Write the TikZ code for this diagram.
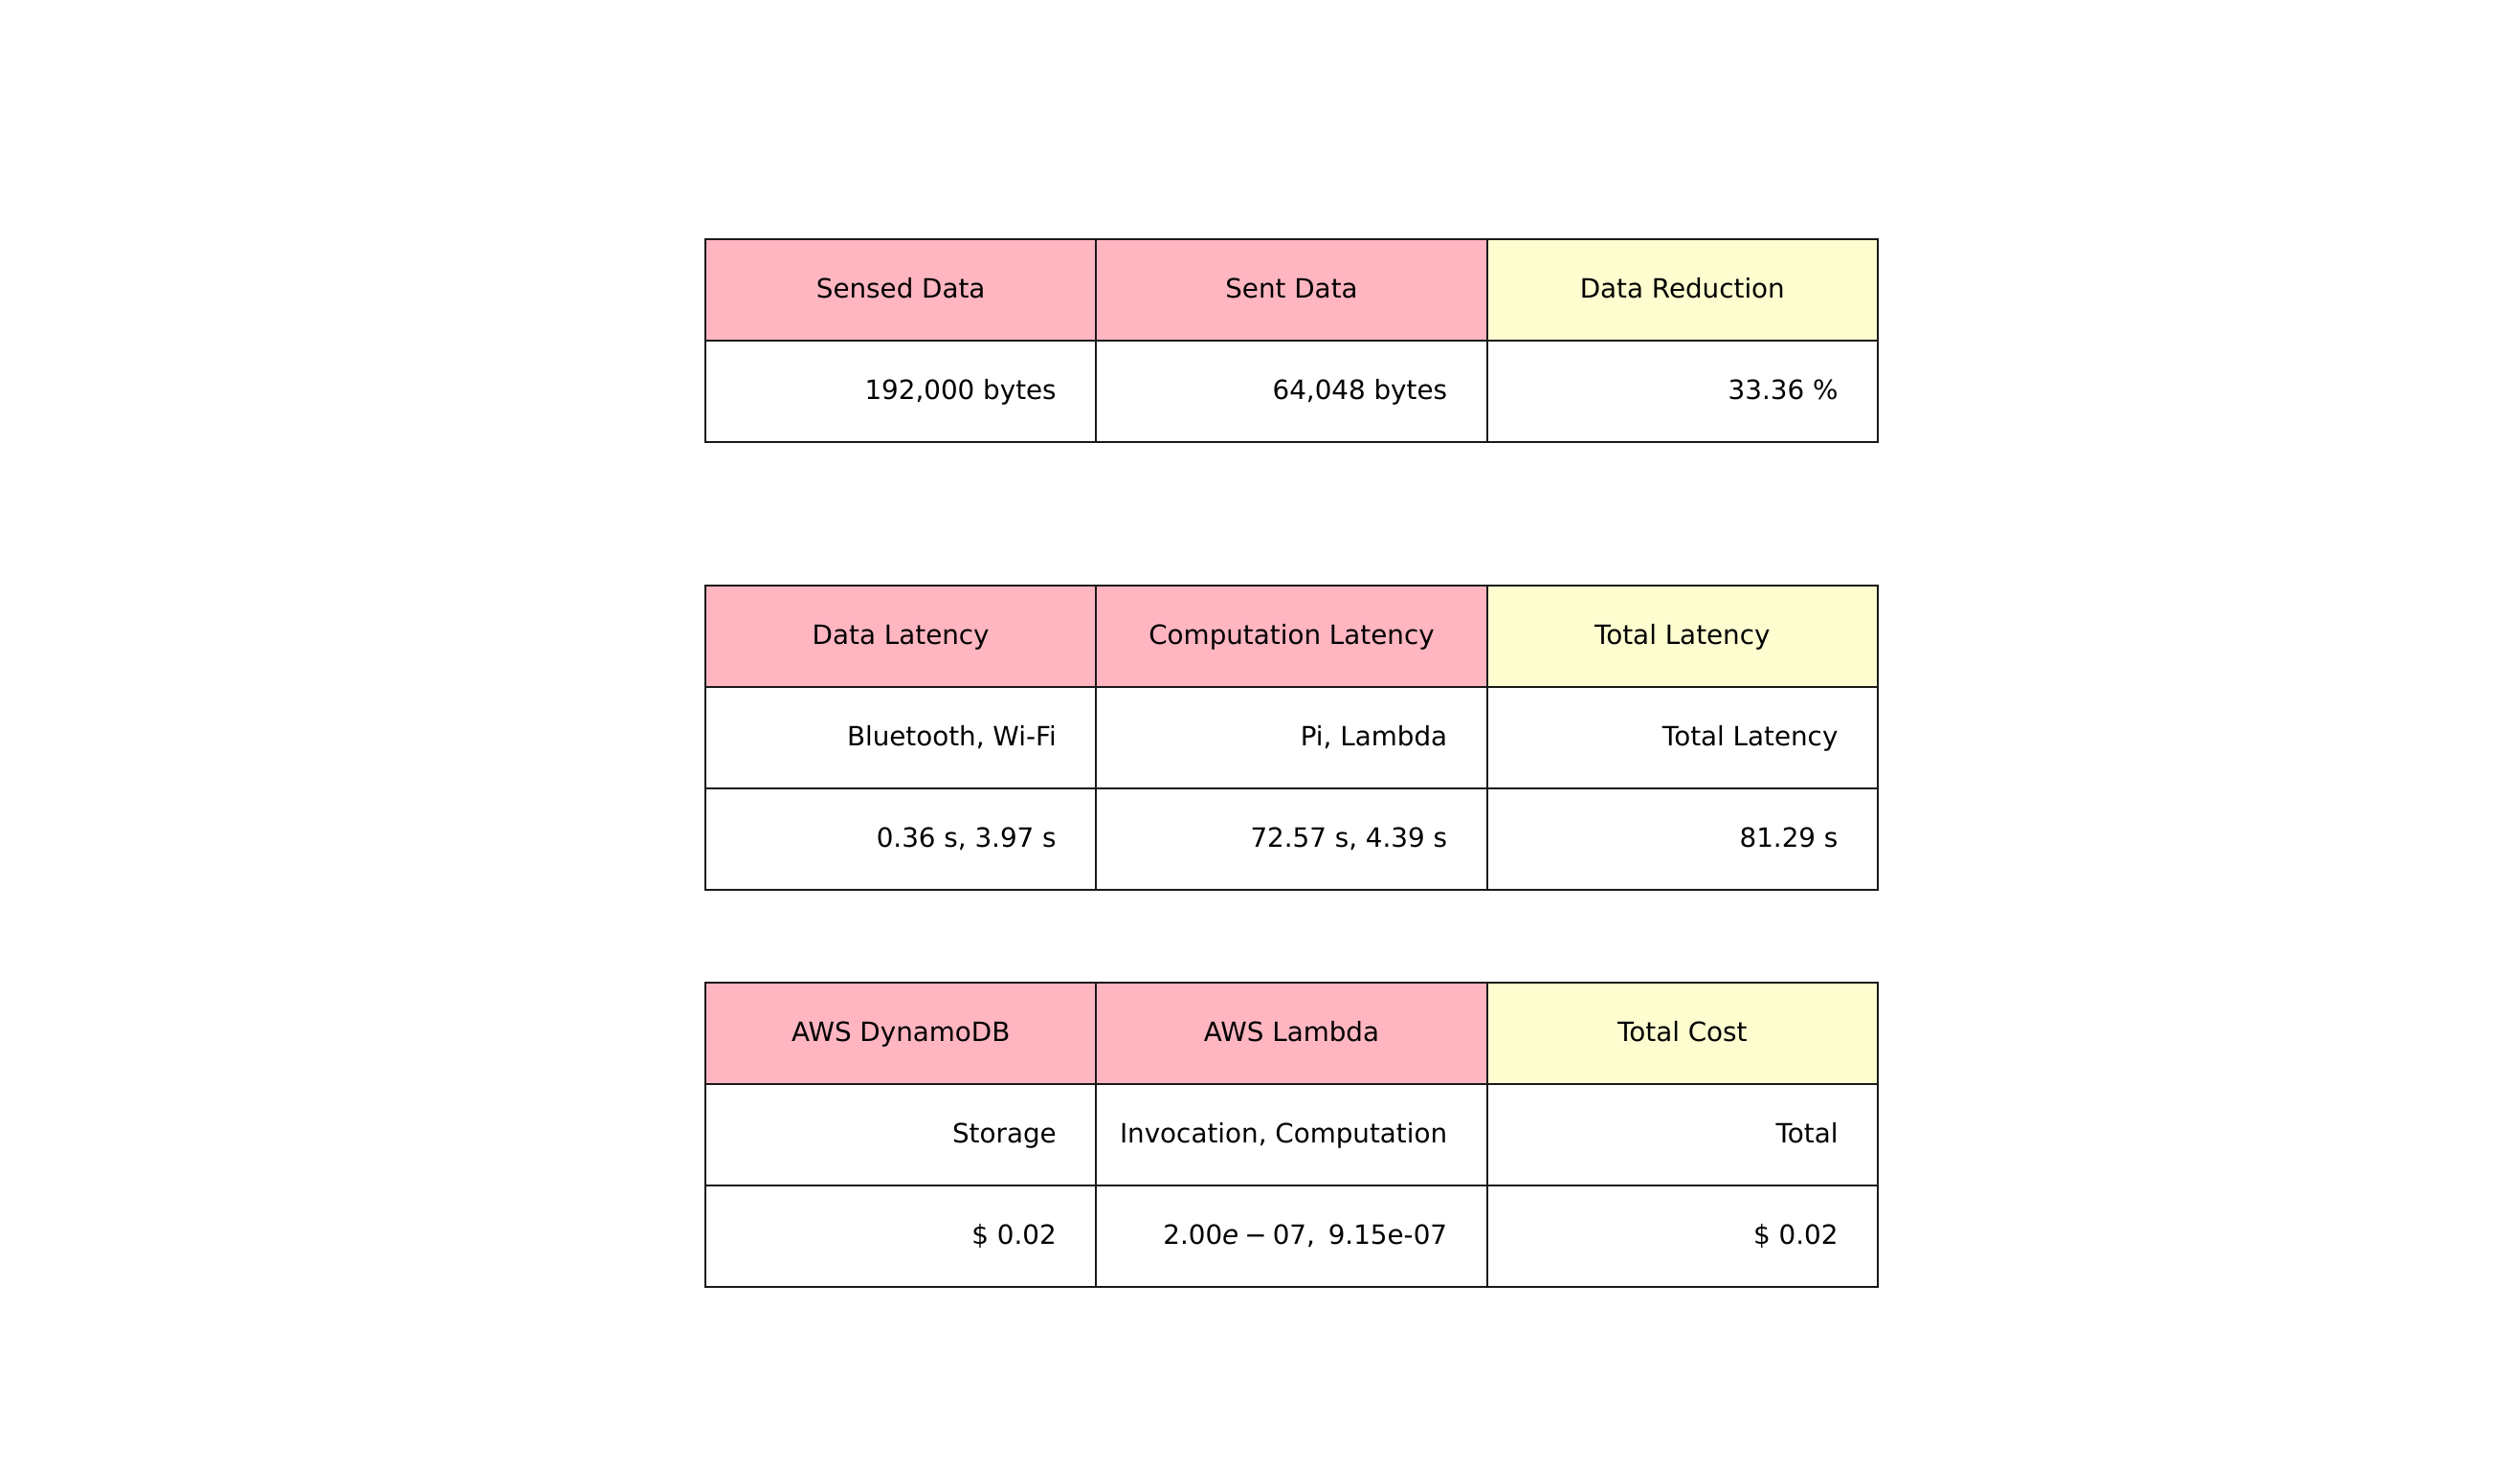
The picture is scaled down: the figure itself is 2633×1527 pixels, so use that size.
\documentclass[tikz,border=0pt]{standalone}
\usepackage{fontspec}
\setmainfont{DejaVu Sans}
\definecolor{hdrpink}{RGB}{255,182,193}
\definecolor{hdryellow}{RGB}{253,253,208}
\begin{document}
\begin{tikzpicture}[x=0.36364pt,y=-0.36364pt,
  cellline/.style={draw=black!90,line width=0.7pt},
  hdr/.style={anchor=base,inner sep=0pt,font=\fontsize{10.1}{12}\selectfont},
  val/.style={anchor=base east,inner sep=0pt,font=\fontsize{10.1}{12}\selectfont}]
\useasboundingbox (0,0) rectangle (2633,1527);
% ---------- Table 1 ----------
\fill[hdrpink] (737,250) rectangle (1553.7,356);
\fill[hdryellow] (1553.7,250) rectangle (1962,356);
\draw[cellline] (737,250) rectangle (1962,462);
\draw[cellline] (737,356) -- (1962,356);
\draw[cellline] (1145.3,250) -- (1145.3,462);
\draw[cellline] (1553.7,250) -- (1553.7,462);
\node[hdr] (t1h1) at (941.2,311.5) {Sensed Data};
\node[hdr] (t1h2) at (1349.5,311.5) {Sent Data};
\node[hdr] (t1h3) at (1757.8,311.5) {Data Reduction};
\node[val] (t1a1) at (1104.3,417.5) {192,000 bytes};
\node[val] (t1a2) at (1512.7,417.5) {64,048 bytes};
\node[val] (t1a3) at (1921,417.5) {33.36 \%};
% ---------- Table 2 ----------
\fill[hdrpink] (737,612.3) rectangle (1553.7,718.3);
\fill[hdryellow] (1553.7,612.3) rectangle (1962,718.3);
\draw[cellline] (737,612.3) rectangle (1962,930);
\draw[cellline] (737,718.3) -- (1962,718.3);
\draw[cellline] (737,824.2) -- (1962,824.2);
\draw[cellline] (1145.3,612.3) -- (1145.3,930);
\draw[cellline] (1553.7,612.3) -- (1553.7,930);
\node[hdr] (t2h1) at (941.2,673.8) {Data Latency};
\node[hdr] (t2h2) at (1349.5,673.8) {Computation Latency};
\node[hdr] (t2h3) at (1757.8,673.8) {Total Latency};
\node[val] (t2a1) at (1104.3,779.8) {Bluetooth, Wi-Fi};
\node[val] (t2a2) at (1512.7,779.8) {Pi, Lambda};
\node[val] (t2a3) at (1921,779.8) {Total Latency};
\node[val] (t2b1) at (1104.3,885.7) {0.36 s, 3.97 s};
\node[val] (t2b2) at (1512.7,885.7) {72.57 s, 4.39 s};
\node[val] (t2b3) at (1921,885.7) {81.29 s};
% ---------- Table 3 ----------
\fill[hdrpink] (737,1027.3) rectangle (1553.7,1133.2);
\fill[hdryellow] (1553.7,1027.3) rectangle (1962,1133.2);
\draw[cellline] (737,1027.3) rectangle (1962,1345);
\draw[cellline] (737,1133.2) -- (1962,1133.2);
\draw[cellline] (737,1239.1) -- (1962,1239.1);
\draw[cellline] (1145.3,1027.3) -- (1145.3,1345);
\draw[cellline] (1553.7,1027.3) -- (1553.7,1345);
\node[hdr] (t3h1) at (941.2,1088.8) {AWS DynamoDB};
\node[hdr] (t3h2) at (1349.5,1088.8) {AWS Lambda};
\node[hdr] (t3h3) at (1757.8,1088.8) {Total Cost};
\node[val] (t3a1) at (1104.3,1194.7) {Storage};
\node[val] (t3a2) at (1512.7,1194.7) {Invocation, Computation};
\node[val] (t3a3) at (1921,1194.7) {Total};
\node[val] (t3b1) at (1104.3,1300.6) {\$ 0.02};
\node[val] (t3b2) at (1512.7,1300.6) {2.00\textit{e}\hspace{0.22em}−\hspace{0.22em}07,\hspace{0.5em}9.15e-07};
\node[val] (t3b3) at (1921,1300.6) {\$ 0.02};
\end{tikzpicture}
\end{document}
